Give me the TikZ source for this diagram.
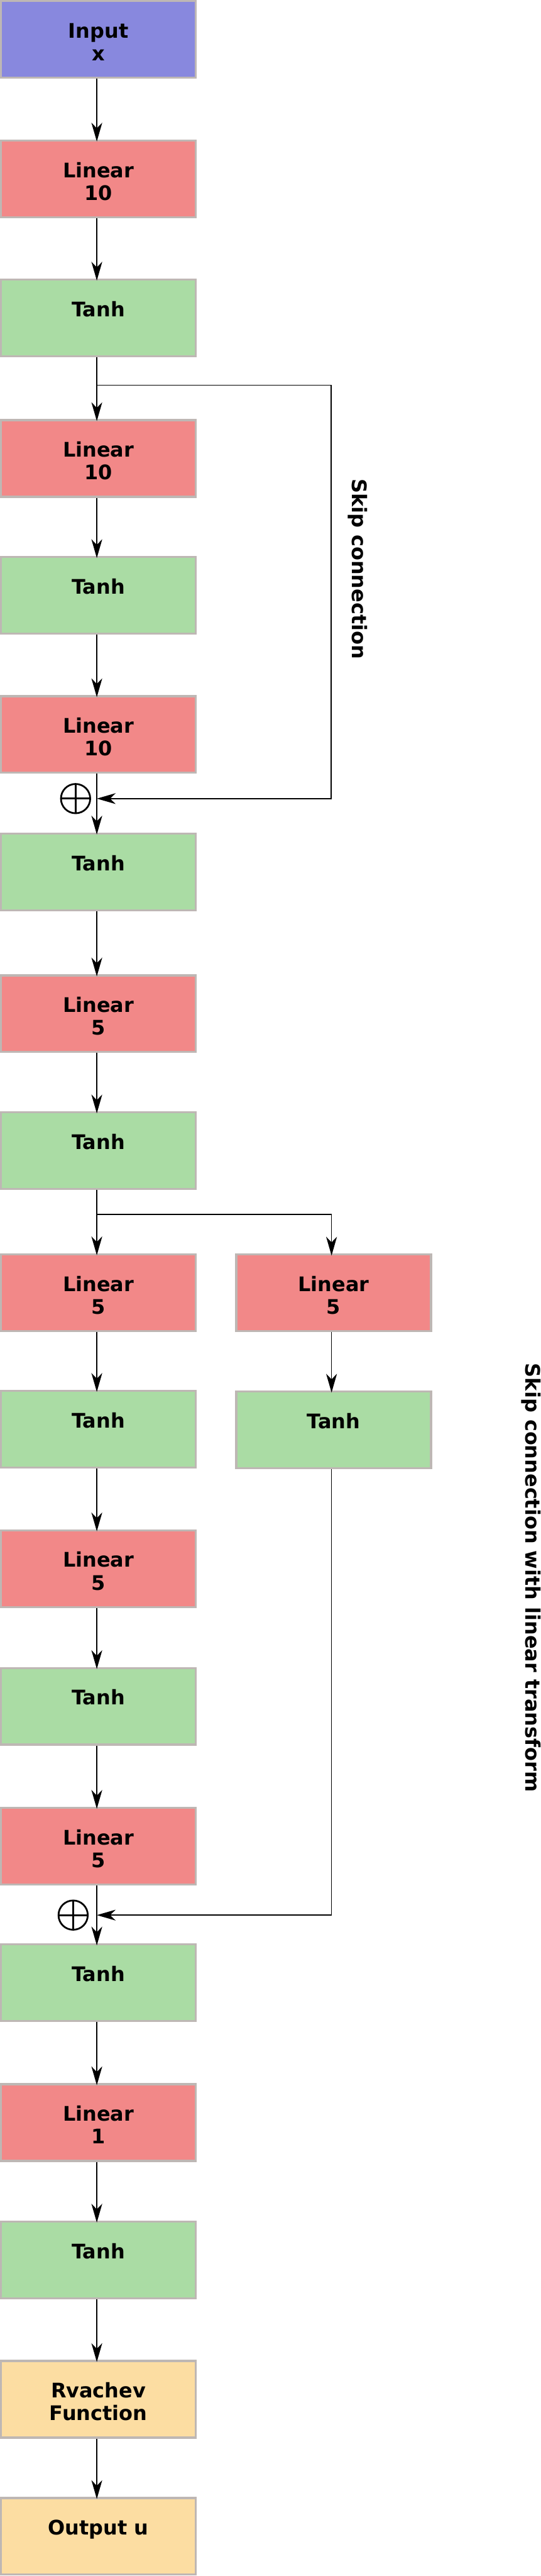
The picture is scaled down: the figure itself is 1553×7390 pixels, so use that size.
\documentclass[tikz,border=0pt]{standalone}
\usepackage{fontspec}
\setmainfont{DejaVu Sans}
\usetikzlibrary{arrows.meta}
\definecolor{inputfill}{RGB}{136,136,222}
\definecolor{linfill}{RGB}{242,136,136}
\definecolor{tanhfill}{RGB}{170,220,164}
\definecolor{rvfill}{RGB}{252,221,162}
\definecolor{bordergray}{RGB}{190,183,180}
\begin{document}
\begin{tikzpicture}[x=0.5pt,y=-0.5pt,
  blk/.style={draw=bordergray, line width=3pt, rectangle, inner sep=0pt,
    minimum width=279.5pt, text height=53pt, text depth=57pt, align=center,
    font=\fontsize{28.8pt}{32.5pt}\selectfont\bfseries},
  two/.style={text height=85.5pt, text depth=24.5pt},
  inp/.style={blk, fill=inputfill},
  lin/.style={blk, fill=linfill},
  tnh/.style={blk, fill=tanhfill},
  rv/.style={blk, fill=rvfill},
  conn/.style={line width=1.5pt, draw=black},
  harr/.style={conn, -{Stealth[length=27pt,width=15.5pt,inset=8pt]}},
  arr/.style={harr, shorten >=-3pt},
  oplus/.style={circle, draw, line width=2.5pt, minimum size=42pt, inner sep=0pt,
    path picture={\draw[line width=2.5pt]
      (path picture bounding box.north) -- (path picture bounding box.south)
      (path picture bounding box.west) -- (path picture bounding box.east);}},
  lbl/.style={rotate=-90, anchor=base, font=\fontsize{28.8pt}{32.5pt}\selectfont\bfseries}
]
\useasboundingbox (0,0) rectangle (1553,7390);

\coordinate (ax) at (278,0);
\coordinate (bx) at (952,0);

% main column
\node[inp,two] (n0)  at (282.5,113)  {Input\\x};
\node[lin,two] (n1)  at (282.5,513)  {Linear\\10};
\node[tnh]     (n2)  at (282.5,912)  {Tanh};
\node[lin,two] (n3)  at (282.5,1315) {Linear\\10};
\node[tnh]     (n4)  at (282.5,1708) {Tanh};
\node[lin,two] (n5)  at (282.5,2107) {Linear\\10};
\node[tnh]     (n6)  at (282.5,2501) {Tanh};
\node[lin,two] (n7)  at (282.5,2908) {Linear\\5};
\node[tnh]     (n8)  at (282.5,3301) {Tanh};
\node[lin,two] (n9)  at (282.5,3708) {Linear\\5};
\node[tnh]     (n10) at (282.5,4100) {Tanh};
\node[lin,two] (n11) at (282.5,4500) {Linear\\5};
\node[tnh]     (n12) at (282.5,4895) {Tanh};
\node[lin,two] (n13) at (282.5,5296) {Linear\\5};
\node[tnh]     (n14) at (282.5,5688) {Tanh};
\node[lin,two] (n15) at (282.5,6089) {Linear\\1};
\node[tnh]     (n16) at (282.5,6483) {Tanh};
\node[rv,two]  (n17) at (282.5,6883) {Rvachev\\Function};
\node[rv]      (n18) at (282.5,7276) {Output u};

% right branch
\node[lin,two] (r1) at (958,3709) {Linear\\5};
\node[tnh]     (r2) at (958,4102) {Tanh};

% main arrows
\foreach \i [evaluate=\i as \j using int(\i+1)] in {0,...,17}{
  \draw[arr] (n\i.south -| ax) -- (n\j.north -| ax);
}

% skip connection 1
\coordinate (s1a) at (278,1105);
\coordinate (s1b) at (951,1105);
\coordinate (s1c) at (951,2291);
\coordinate (s1d) at (278,2291);
\draw[harr] (s1a) -- (s1b) -- (s1c) -- (s1d);
\node[oplus] (p1) at (217,2291) {};

% skip connection 2
\coordinate (s2a) at (278,3484);
\coordinate (s2b) at (952,3484);
\draw[arr] (s2a) -- (s2b) -- (r1.north -| bx);
\draw[arr] (r1.south -| bx) -- (r2.north -| bx);
\coordinate (s2c) at (952,5494);
\coordinate (s2d) at (278,5494);
\draw[harr] (r2.south -| bx) -- (s2c) -- (s2d);
\node[oplus] (p2) at (210,5494) {};

% labels
\node[lbl] (lab1) at (1012,1632) {Skip connection};
\node[lbl] (lab2) at (1510,4526) {Skip connection with linear transform};
\end{tikzpicture}
\end{document}
